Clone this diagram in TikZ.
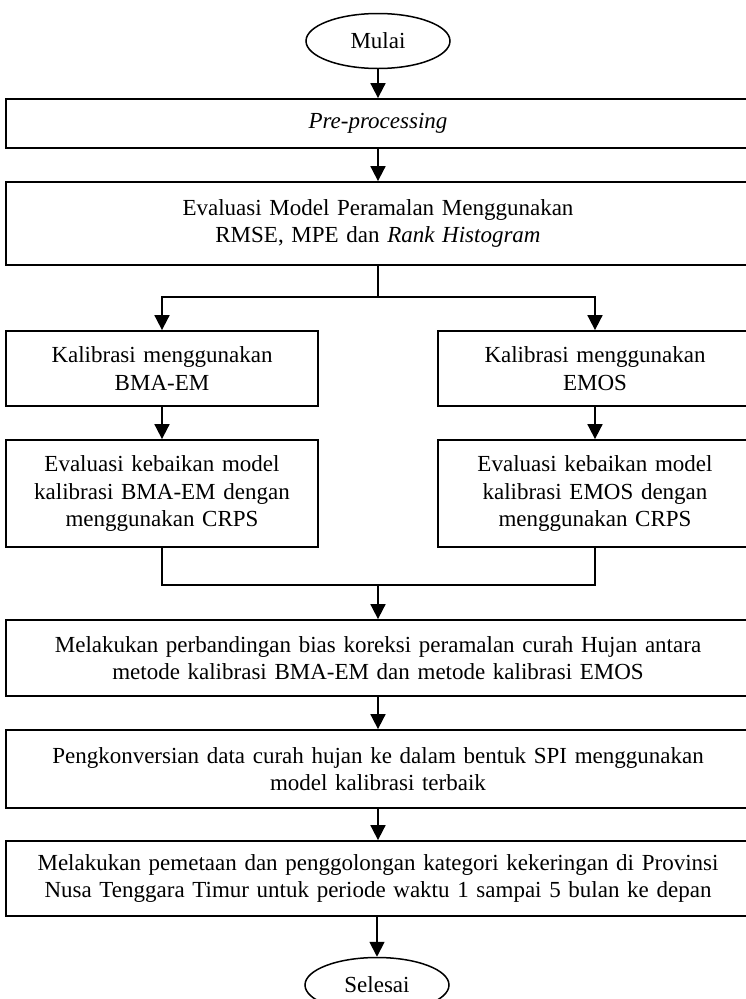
\documentclass[tikz,border=0pt]{standalone}
\usepackage{fontspec}
\setmainfont{Liberation Serif}
\usetikzlibrary{arrows.meta,shapes.geometric}
\begin{document}
\begin{tikzpicture}[x=1pt,y=-1pt,
  every node/.style={font=\fontsize{23}{27.5}\selectfont},
  box/.style={draw,line width=1.8pt,rectangle,align=center,inner sep=0pt},
  wide/.style={box,minimum width=744pt,text width=735pt},
  half/.style={box,minimum width=312pt,text width=305pt},
  term/.style={draw,line width=1.5pt,ellipse,minimum width=144pt,minimum height=55pt,inner sep=0pt},
  arr/.style={line width=1.8pt,-{Triangle[length=15pt,width=15pt]}},
  mergeline/.style={line width=1.3pt}]
\useasboundingbox (0,0) rectangle (746,999);
\node[term] (mulai) at (378,41) {Mulai};
\node[wide,minimum height=49pt] (pre) at (378,123.5) {\textit{Pre-processing}};
\node[wide,minimum height=83pt] (eval) at (378,223.5) {Evaluasi Model Peramalan Menggunakan\\RMSE, MPE dan \textit{Rank Histogram}};
\node[half,minimum height=75pt] (kal1) at (162,368.5) {Kalibrasi menggunakan\\BMA-EM};
\node[half,minimum height=75pt,minimum width=314pt] (kal2) at (595,368.5) {Kalibrasi menggunakan\\EMOS};
\node[half,minimum height=107pt] (ev1) at (162,493.5) {Evaluasi kebaikan model\\kalibrasi BMA-EM dengan\\menggunakan CRPS};
\node[half,minimum height=107pt,minimum width=314pt] (ev2) at (595,493.5) {Evaluasi kebaikan model\\kalibrasi EMOS dengan\\menggunakan CRPS};
\node[wide,minimum height=76pt] (banding) at (378,658) {Melakukan perbandingan bias koreksi peramalan curah Hujan antara\\metode kalibrasi BMA-EM dan metode kalibrasi EMOS};
\node[wide,minimum height=78pt] (konv) at (378,769) {Pengkonversian data curah hujan ke dalam bentuk SPI menggunakan\\model kalibrasi terbaik};
\node[wide,minimum height=75pt] (petak) at (378,878.5) {Melakukan pemetaan dan penggolongan kategori kekeringan di Provinsi\\Nusa Tenggara Timur untuk periode waktu 1 sampai 5 bulan ke depan};
\node[term] (selesai) at (377,985) {Selesai};
\coordinate (split) at (378,297);
\coordinate (merge) at (378,585);
\draw[arr] (mulai.south) -- (pre.north);
\draw[arr] (pre.south) -- (eval.north);
\draw[line width=1.8pt] (eval.south) -- (split);
\draw[arr] (split) -| (kal1.north);
\draw[arr] (split) -| (kal2.north);
\draw[arr] (kal1.south) -- (ev1.north);
\draw[arr] (kal2.south) -- (ev2.north);
\draw[mergeline] (ev1.south) |- (merge);
\draw[mergeline] (ev2.south) |- (merge);
\draw[arr] (merge) -- (banding.north);
\draw[arr] (banding.south) -- (konv.north);
\draw[arr] (konv.south) -- (petak.north);
\draw[arr] (petak.south -| selesai.north) -- (selesai.north);
\end{tikzpicture}
\end{document}
